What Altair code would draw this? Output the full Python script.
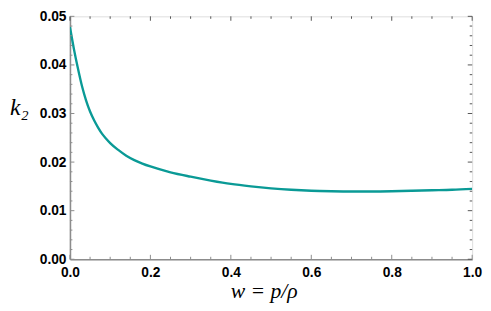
import altair as alt
import pandas as pd

# curve values
w_vals = [0.00, 0.01, 0.02, 0.03, 0.04, 0.05, 0.06, 0.07, 0.08, 0.09, 0.10, 0.12,
          0.14, 0.16, 0.18, 0.20, 0.25, 0.30, 0.35, 0.40, 0.45, 0.50, 0.55, 0.60,
          0.65, 0.70, 0.75, 0.80, 0.85, 0.90, 0.95, 1.00]
k2_vals = [0.0478, 0.0432, 0.0392, 0.0356, 0.0327, 0.0304, 0.0286, 0.0271, 0.0258,
           0.0248, 0.0239, 0.0225, 0.0213, 0.0204, 0.0197, 0.0191, 0.0179, 0.0170,
           0.0162, 0.0155, 0.0150, 0.0146, 0.0143, 0.0141, 0.0140, 0.01395,
           0.01395, 0.0140, 0.0141, 0.0142, 0.0143, 0.0145]

x_major = [0.0, 0.2, 0.4, 0.6, 0.8, 1.0]
x_minor = [0.05, 0.10, 0.15, 0.25, 0.30, 0.35, 0.45, 0.50, 0.55, 0.65, 0.70, 0.75, 0.85, 0.90, 0.95]
y_major = [0.00, 0.01, 0.02, 0.03, 0.04, 0.05]
y_minor = [0.002, 0.004, 0.006, 0.008, 0.012, 0.014, 0.016, 0.018, 0.022, 0.024, 0.026, 0.028,
           0.032, 0.034, 0.036, 0.038, 0.042, 0.044, 0.046, 0.048]

W, H = 409, 247
LINE = "#0a9a96"
FRAME_LB = "#8c8c8c"
FRAME_TR = "#555555"
XTITLE = "w = p/ρ"
YTITLE = "k₂"

xs = alt.Scale(domain=[0, 1], nice=False, zero=False)
ys = alt.Scale(domain=[0, 0.05], nice=False)

x_axis = alt.Axis(
    values=x_major, format=".1f", ticks=False, grid=False, labelFlush=False,
    domainColor=FRAME_LB, domainWidth=1.6,
    labelFont="Liberation Sans", labelFontWeight="bold", labelFontSize=14, labelColor="#000",
    labelPadding=7,
    titleFont="Liberation Serif", titleFontStyle="italic", titleFontWeight="normal",
    titleFontSize=22, titleColor="#000", titleX=197, titleY=39, titleBaseline="alphabetic")
y_axis = alt.Axis(
    values=y_major, format=".2f", ticks=False, grid=False, labelFlush=False,
    domainColor=FRAME_LB, domainWidth=1.6,
    labelFont="Liberation Sans", labelFontWeight="bold", labelFontSize=14, labelColor="#000",
    labelPadding=4,
    titleFont="Liberation Serif", titleFontStyle="italic", titleFontWeight="normal",
    titleFontSize=24, titleColor="#000", titleAngle=0, titleX=-52, titleY=100,
    titleAlign="center", titleBaseline="alphabetic")

curve = pd.DataFrame({"w": w_vals, "k2": k2_vals})

line = alt.Chart(curve).mark_line(color=LINE, strokeWidth=2.4, interpolate="monotone", clip=True).encode(
    x=alt.X("w:Q", scale=xs, axis=x_axis, title=XTITLE),
    y=alt.Y("k2:Q", scale=ys, axis=y_axis, title=YTITLE),
)


def hticks(vals, x0, x1, color):
    return alt.Chart(pd.DataFrame({"v": vals})).mark_rule(color=color, strokeWidth=1).encode(
        y=alt.Y("v:Q", scale=ys, axis=y_axis, title=YTITLE), x=alt.value(x0), x2=alt.value(x1))


def vticks(vals, y0, y1, color):
    return alt.Chart(pd.DataFrame({"v": vals})).mark_rule(color=color, strokeWidth=1).encode(
        x=alt.X("v:Q", scale=xs, axis=x_axis, title=XTITLE), y=alt.value(y0), y2=alt.value(y1))


ticks = [
    hticks(y_major, 0, 4.5, FRAME_LB), hticks(y_minor, 0, 2.5, FRAME_LB),
    hticks(y_major, W - 4.5, W, FRAME_TR), hticks(y_minor, W - 2.5, W, FRAME_TR),
    vticks(x_major, H - 4.5, H, FRAME_LB), vticks(x_minor, H - 2.5, H, FRAME_LB),
    vticks(x_major, 0, 4.5, FRAME_TR), vticks(x_minor, 0, 2.5, FRAME_TR),
]

chart = alt.layer(line, *ticks).properties(
    width=W, height=H,
    autosize=alt.AutoSizeParams(type="none"),
    padding={"left": 63, "top": 6, "right": 11, "bottom": 42},
).configure_view(stroke=FRAME_TR, strokeWidth=1).configure(background="white")

chart.save("out.html", embed_options={"renderer": "svg", "actions": False})
